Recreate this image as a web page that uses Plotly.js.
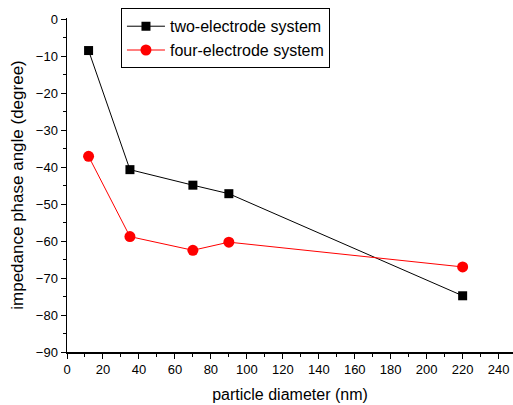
<!DOCTYPE html>
<html><head><meta charset="utf-8">
<script src="https://cdn.plot.ly/plotly-3.0.1.min.js"></script>
<style>html,body{margin:0;padding:0;background:#fff}#chart{width:513px;height:405px}</style>
</head><body><div id="chart"></div>
<script>
const diameters = [12, 35, 70, 90, 220];
const twoElectrode = [-8.5, -40.7, -44.9, -47.2, -74.8];
const fourElectrode = [-37.1, -58.8, -62.5, -60.3, -67.0];
const seriesNames = ['two-electrode system', 'four-electrode system'];

const font = 'Arial, "Liberation Sans", sans-serif';
const traces = [
  {x: diameters, y: twoElectrode, name: seriesNames[0], type: 'scatter', mode: 'lines+markers',
   line: {color: '#000', width: 1}, marker: {symbol: 'square', size: 9, color: '#000'}},
  {x: diameters, y: fourElectrode, name: seriesNames[1], type: 'scatter', mode: 'lines+markers',
   line: {color: '#ff0000', width: 1}, marker: {symbol: 'circle', size: 11, color: '#ff0000'}}
];
const layout = {
  width: 513, height: 405,
  margin: {l: 66.5, r: 0, t: 18, b: 53},
  paper_bgcolor: '#fff', plot_bgcolor: '#fff',
  font: {family: font, size: 13, color: '#000'},
  showlegend: true,
  legend: {x: 0.121, y: 1.029, xanchor: 'left', yanchor: 'top', bordercolor: '#000', borderwidth: 1,
           bgcolor: '#fff', font: {family: font, size: 16}, tracegroupgap: 0, itemwidth: 38},
  xaxis: {range: [0, 248], dtick: 20, tick0: 0, ticks: 'outside', ticklen: 5, tickwidth: 1, tickcolor: '#000',
          showline: true, linecolor: '#000', linewidth: 1.5, showgrid: false, zeroline: false,
          minor: {dtick: 10, ticks: 'outside', ticklen: 3, tickcolor: '#000', showgrid: false},
          tickfont: {family: font, size: 13},
          title: {text: 'particle diameter (nm)', font: {family: font, size: 16}, standoff: 12}},
  yaxis: {range: [-90, 0.3], dtick: 10, tick0: 0, ticks: 'outside', ticklen: 5, tickwidth: 1, tickcolor: '#000',
          showline: true, linecolor: '#000', linewidth: 1.5, showgrid: false, zeroline: false,
          minor: {dtick: 5, ticks: 'outside', ticklen: 3, tickcolor: '#000', showgrid: false},
          tickfont: {family: font, size: 13},
          title: {text: 'impedance phase angle (degree)', font: {family: font, size: 17}, standoff: 8}}
};
Plotly.newPlot('chart', traces, layout, {displayModeBar: false, staticPlot: true});
</script></body></html>
